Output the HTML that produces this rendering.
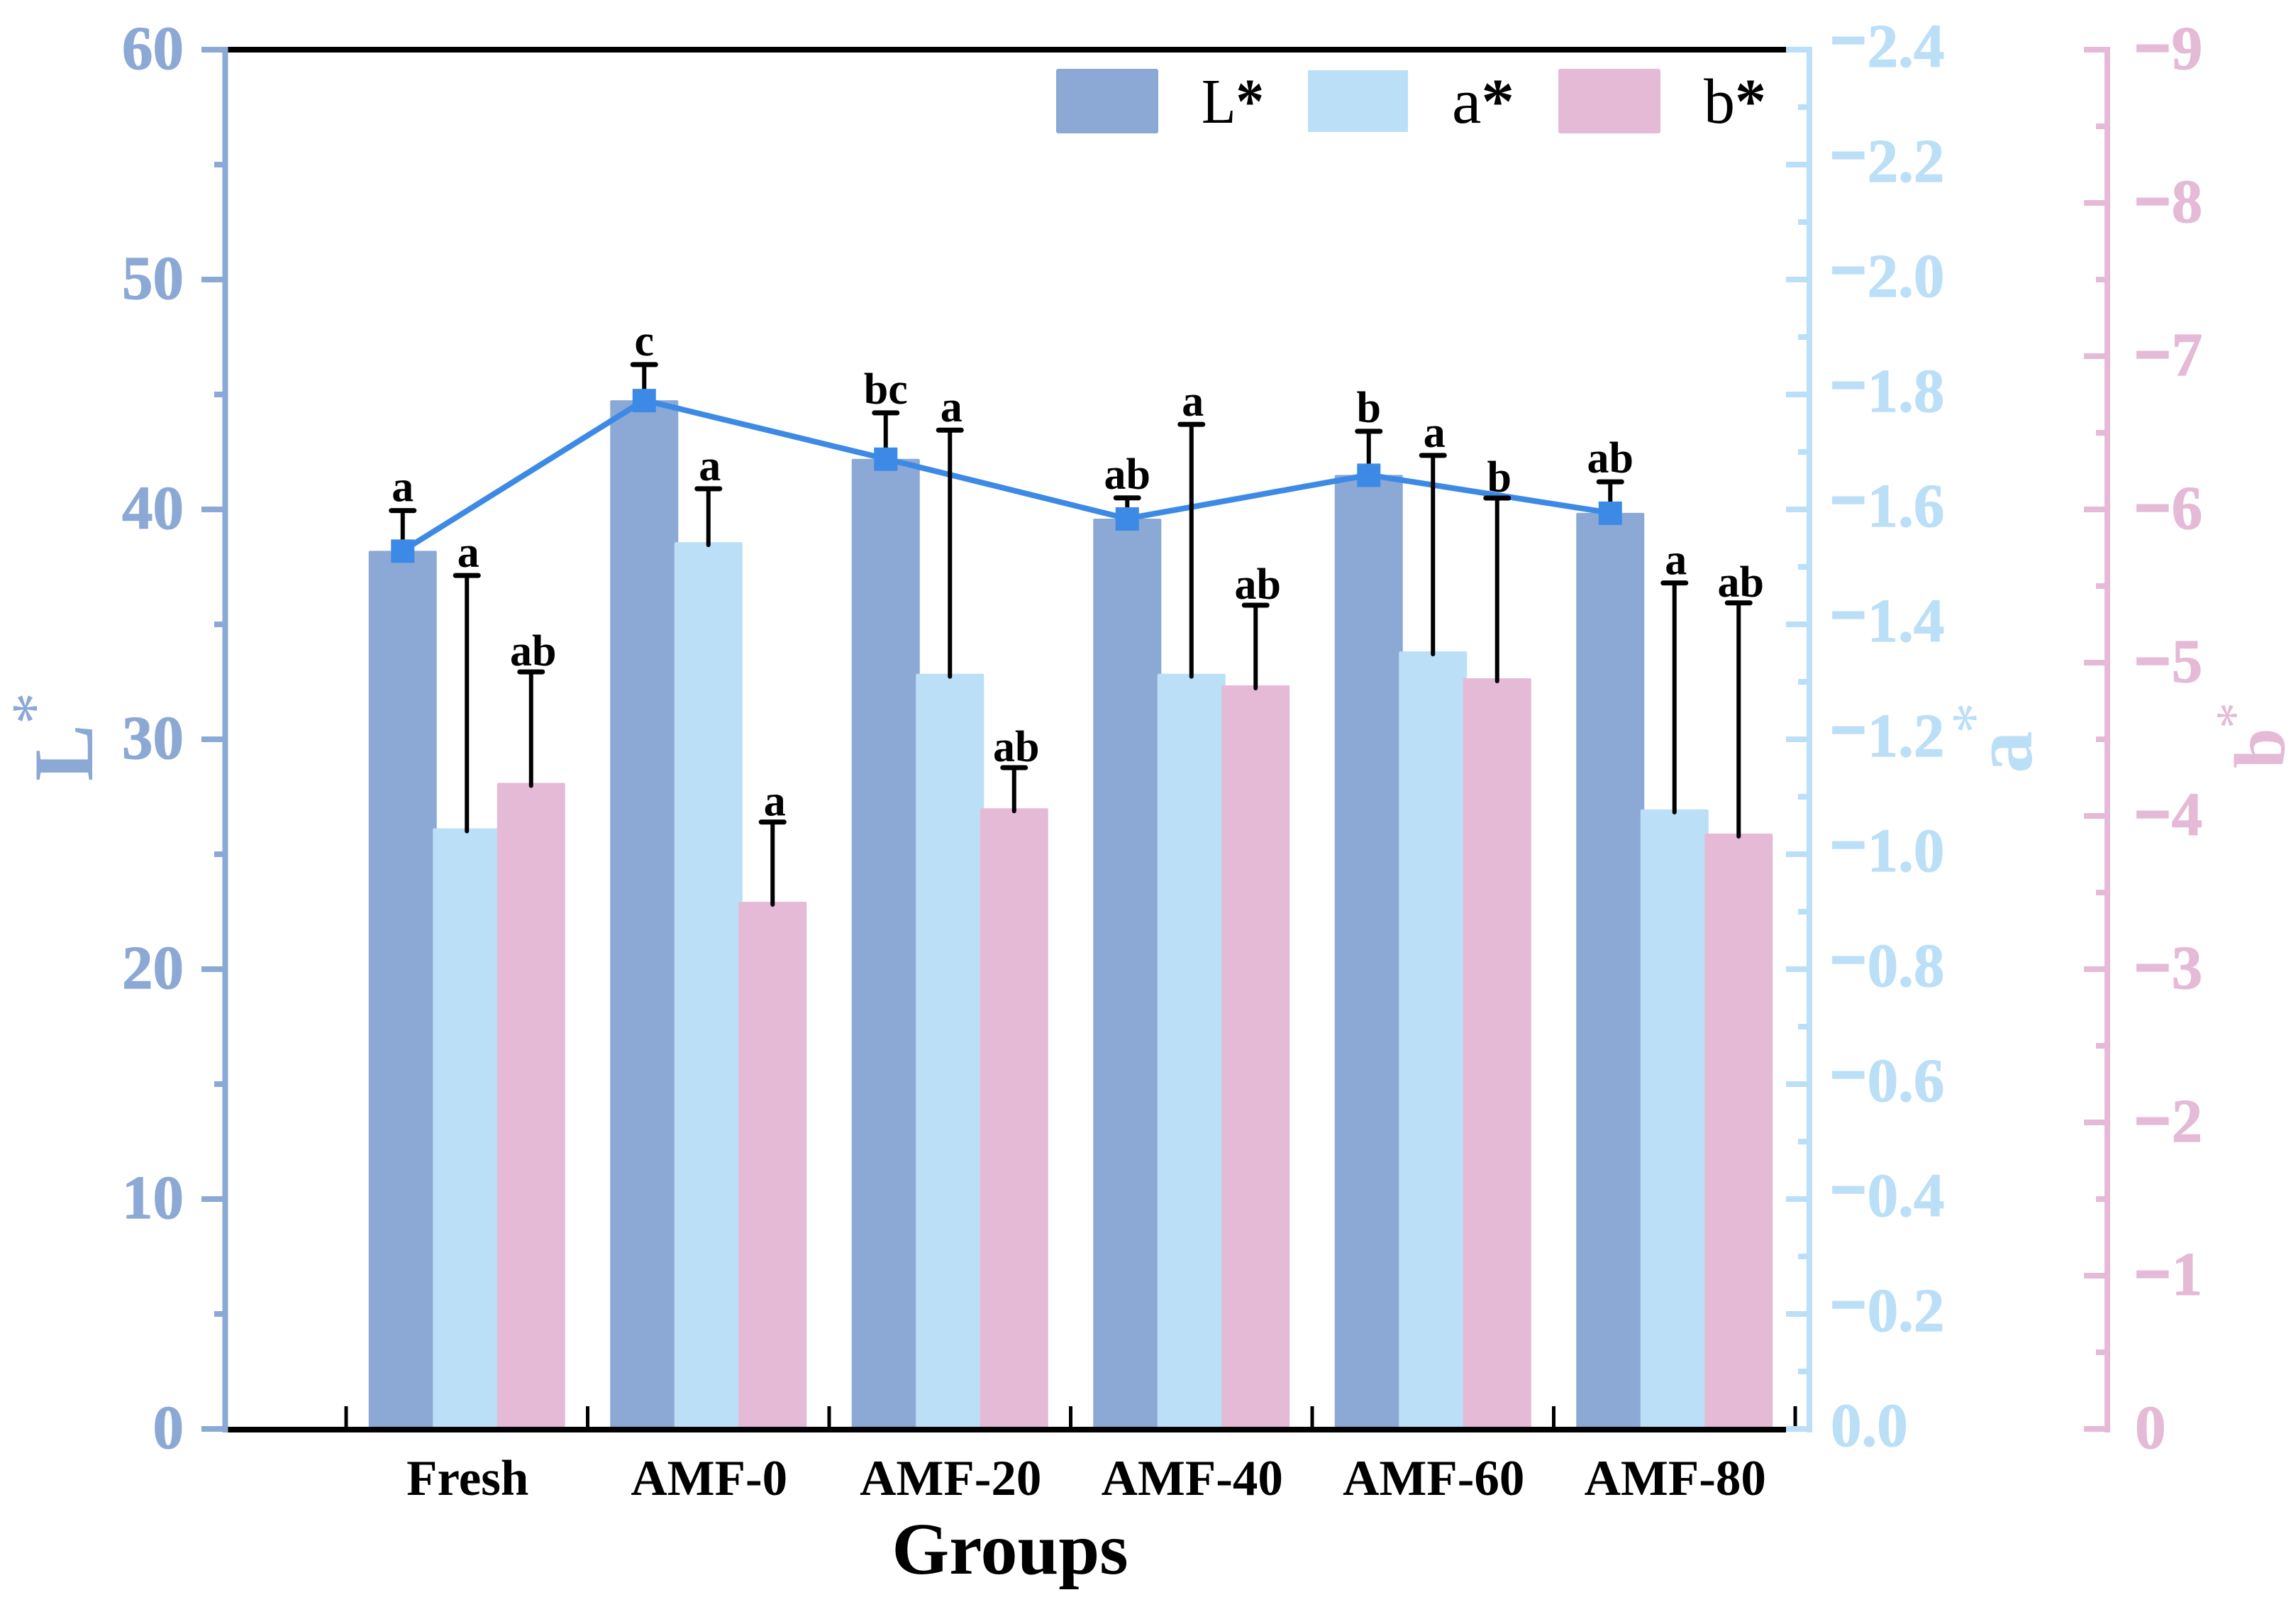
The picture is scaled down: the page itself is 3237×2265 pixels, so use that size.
<!DOCTYPE html>
<html>
<head>
<meta charset="utf-8">
<title>L* a* b* colour values by group</title>
<style>
html,body{margin:0;padding:0;background:#fff;}
svg{display:block;font-family:"Liberation Serif","Times New Roman",serif;}
</style>
</head>
<body>
<svg id="chart" xmlns="http://www.w3.org/2000/svg" width="3237" height="2265" viewBox="0 0 3237 2265">
  <rect width="3237" height="2265" fill="#ffffff"/>
  <g id="bars"></g>
  <g id="errors-l"></g>
  <polyline id="line-l" fill="none" stroke="#3D8AE6" stroke-width="8" stroke-linejoin="round"/>
  <g id="markers"></g>
  <g id="errors-ab"></g>
  <g id="sig" font-weight="bold" font-size="62" text-anchor="middle" fill="#000"></g>
  <g id="axes"></g>

  <g font-size="90" fill="#000">
    <rect x="1489" y="97" width="144" height="91" rx="3" fill="#8CA8D5"/>
    <text x="1694" y="173" textLength="88" lengthAdjust="spacingAndGlyphs">L<tspan font-weight="bold">*</tspan></text>
    <rect x="1844" y="99" width="141" height="87" fill="#BBDFF6"/>
    <text x="2047" y="173" textLength="88" lengthAdjust="spacingAndGlyphs">a<tspan font-weight="bold">*</tspan></text>
    <rect x="2197" y="97" width="144" height="91" rx="3" fill="#E4BAD6"/>
    <text x="2402" y="173" textLength="88" lengthAdjust="spacingAndGlyphs">b<tspan font-weight="bold">*</tspan></text>
  </g>

  <text x="1424" y="2218" font-size="104" font-weight="bold" text-anchor="middle" fill="#000">Groups</text>

  <g fill="#8CA8D5" font-weight="bold">
    <text transform="translate(130,1101) rotate(-90)" font-size="120">L</text>
    <text transform="translate(78,1021) rotate(-90)" font-size="90" font-weight="normal">*</text>
  </g>
  <g fill="#BBDFF6" font-weight="bold">
    <text transform="translate(2864,1090) rotate(-90)" font-size="120">a</text>
    <text transform="translate(2812,1034) rotate(-90)" font-size="88" font-weight="normal">*</text>
  </g>
  <g fill="#E4BAD6" font-weight="bold">
    <text transform="translate(3220,1083) rotate(-90)" font-size="102">b</text>
    <text transform="translate(3175,1027) rotate(-90)" font-size="74" font-weight="normal">*</text>
  </g>
</svg>

<script>
const categories = ["Fresh", "AMF-0", "AMF-20", "AMF-40", "AMF-60", "AMF-80"];
const valuesL = [38.2, 44.75, 42.2, 39.6, 41.5, 39.85];
const errorTopL = [39.95, 46.3, 44.2, 40.5, 43.4, 41.2];
const valuesA = [-1.045, -1.543, -1.314, -1.314, -1.353, -1.078];
const errorTopA = [-1.485, -1.636, -1.738, -1.748, -1.694, -1.472];
const valuesB = [-4.215, -3.44, -4.05, -4.852, -4.898, -3.885];
const errorTopB = [-4.94, -3.96, -4.315, -5.375, -6.074, -5.39];
const lettersL = ["a", "c", "bc", "ab", "b", "ab"];
const lettersA = ["a", "a", "a", "a", "a", "a"];
const lettersB = ["ab", "a", "ab", "ab", "b", "ab"];
const ticksL = [0, 10, 20, 30, 40, 50, 60];
const ticksA = [0, -0.2, -0.4, -0.6, -0.8, -1.0, -1.2, -1.4, -1.6, -1.8, -2.0, -2.2, -2.4];
const ticksB = [0, -1, -2, -3, -4, -5, -6, -7, -8, -9];

const SVGNS = "http://www.w3.org/2000/svg";
const COL_L = "#8CA8D5", COL_A = "#BBDFF6", COL_B = "#E4BAD6", COL_LINE = "#3D8AE6";
const Y0 = 2014, YTOP = 70;
function scaleY(maxAbs) { return function (v) { return Y0 - Math.abs(v) / maxAbs * (Y0 - YTOP); }; }
const yL = scaleY(60), yA = scaleY(2.4), yB = scaleY(9);
const X_START = 488, STEP = 340.5;
function xCat(i) { return X_START + STEP * (i + 0.5); }
const OFFSET = 90.5, BAR_W = 96;

function mk(parent, tag, attrs, text) {
  const el = document.createElementNS(SVGNS, tag);
  for (const k in attrs) el.setAttribute(k, attrs[k]);
  if (text !== undefined) el.textContent = text;
  parent.appendChild(el);
  return el;
}

const gBars = document.getElementById("bars");
const gErrL = document.getElementById("errors-l");
const gErrAB = document.getElementById("errors-ab");
const gMarkers = document.getElementById("markers");
const gSig = document.getElementById("sig");
const gAxes = document.getElementById("axes");

function drawBars(vals, scale, off, col, key) {
  vals.forEach(function (v, i) {
    const top = scale(v);
    const el = mk(gBars, "rect", { x: xCat(i) + off - BAR_W / 2, y: top, width: BAR_W, height: Y0 - top, rx: 2, fill: col });
    
    
  });
}
drawBars(valuesL, yL, -OFFSET, COL_L, "l");
drawBars(valuesA, yA, 0, COL_A, "a");
drawBars(valuesB, yB, OFFSET, COL_B, "b");

function drawErr(parent, vals, tops, scale, off, key) {
  vals.forEach(function (v, i) {
    const x = xCat(i) + off, y1 = scale(v), y2 = scale(tops[i]);
    const stem = mk(parent, "line", { x1: x, x2: x, y1: y1 + 4, y2: y2, stroke: "#000", "stroke-width": 6, "stroke-linecap": "round" });
    
    
    const cap = mk(parent, "line", { x1: x - 16, x2: x + 16, y1: y2, y2: y2, stroke: "#000", "stroke-width": 7, "stroke-linecap": "round" });
    
    
  });
}
drawErr(gErrL, valuesL, errorTopL, yL, -OFFSET, "l");
drawErr(gErrAB, valuesA, errorTopA, yA, 0, "a");
drawErr(gErrAB, valuesB, errorTopB, yB, OFFSET, "b");

document.getElementById("line-l").setAttribute("points", valuesL.map(function (v, i) { return (xCat(i) - OFFSET) + "," + yL(v); }).join(" "));
valuesL.forEach(function (v, i) {
  const m = mk(gMarkers, "rect", { x: xCat(i) - OFFSET - 16.5, y: yL(v) - 16, width: 33, height: 33, fill: COL_LINE });
  
  
});

function drawLetters(letters, tops, scale, off, key, gap) {
  letters.forEach(function (s, i) {
    const t = mk(gSig, "text", { x: xCat(i) + off, y: scale(tops[i]) - gap }, s);
    
    
  });
}
drawLetters(lettersL, errorTopL, yL, -OFFSET, "l", 13);
drawLetters(lettersA, errorTopA, yA, 2, "a", 12);
drawLetters(lettersB, errorTopB, yB, OFFSET + 3, "b", 9);

/* horizontal black frame lines */
[YTOP, Y0 + 1].forEach(function (y, idx) {
  const l = mk(gAxes, "line", { x1: 320, x2: 2518, y1: y, y2: y, stroke: "#000", "stroke-width": 8 });
  
  
});

/* x ticks and category labels */
for (let i = 0; i <= categories.length; i++) {
  const x = X_START + STEP * i;
  const tk = mk(gAxes, "line", { x1: x, x2: x, y1: 1982, y2: 2012, stroke: "#000", "stroke-width": 5 });
  
  
}
categories.forEach(function (c, i) {
  const t = mk(gAxes, "text", { x: xCat(i) + 1, y: 2107, "font-size": 71, "font-weight": "bold", "text-anchor": "middle", fill: "#000" }, c);
  
  
});

function fmtNeg(v, digits) { return Math.abs(v).toFixed(digits); }

function drawAxis(key, col, x, majorStart, minorStart, ticks, scale) {
  const ax = mk(gAxes, "line", { x1: x, x2: x, y1: YTOP - 4, y2: Y0 + 5, stroke: col, "stroke-width": 8 });
  
  
  ticks.forEach(function (v, i) {
    const y = scale(v);
    const tk = mk(gAxes, "line", { x1: majorStart, x2: x, y1: y, y2: y, stroke: col, "stroke-width": 8 });
    
    
    if (i < ticks.length - 1) {
      const ym = (y + scale(ticks[i + 1])) / 2;
      const mt = mk(gAxes, "line", { x1: minorStart, x2: x, y1: ym, y2: ym, stroke: col, "stroke-width": 8 });
      
      
    }
  });
}
drawAxis("l", COL_L, 317.5, 284, 302, ticksL, yL);
drawAxis("a", COL_A, 2551, 2518, 2535, ticksA, yA);
drawAxis("b", COL_B, 2971, 2938, 2955, ticksB, yB);

ticksL.forEach(function (v) {
  const t = mk(gAxes, "text", { x: 259, y: yL(v) + 27, "font-size": 87, "font-weight": "bold", "text-anchor": "end", fill: COL_L, stroke: COL_L, "stroke-width": 1.2 }, String(v));
  
  
});

function drawNegLabels(ticks, scale, digits, col, x, key, base, lift) {
  ticks.forEach(function (v) {
    const t = mk(gAxes, "text", { x: x, y: scale(v) + base, "font-size": 87, "font-weight": "bold", fill: col, stroke: col, "stroke-width": 1.2 });
    
    
    if (v !== 0) {
      mk(t, "tspan", { dy: -lift, "stroke-width": 5 }, "\u2212");
      mk(t, "tspan", { dy: lift, dx: 2 }, fmtNeg(v, digits));
    } else {
      t.textContent = fmtNeg(v, digits);
    }
  });
}
drawNegLabels(ticksA, yA, 1, COL_A, 2581, "a", 24, 8);
drawNegLabels(ticksB, yB, 0, COL_B, 3010, "b", 27, 0);
</script>
</body>
</html>
